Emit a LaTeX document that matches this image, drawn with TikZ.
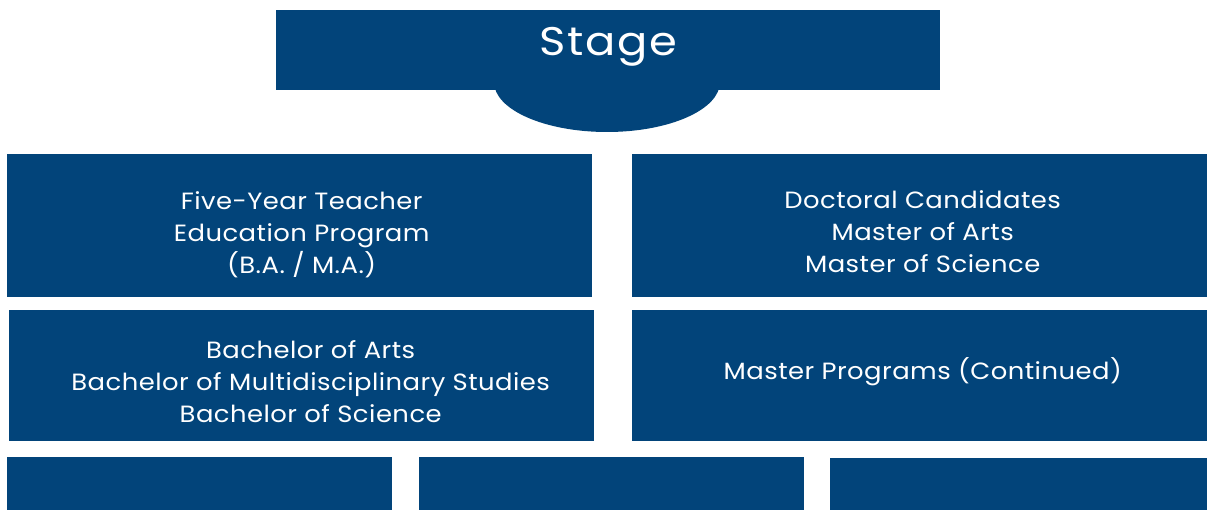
\documentclass[tikz,border=0pt]{standalone}
\usepackage{fontspec}
\setmainfont{Poppins}
\newfontfamily\bodyfont[FakeStretch=1.1, LetterSpace=2]{Poppins}
\newfontfamily\titlefont[FakeStretch=1.12, LetterSpace=4]{Poppins}
\usetikzlibrary{shapes.geometric}
\definecolor{stageblue}{HTML}{02447A}
\tikzset{
  blk/.style={fill=stageblue, draw=none, anchor=north west, inner sep=0pt},
  txt/.style={text=white, align=center, inner sep=0pt, font=\bodyfont\fontsize{23.5}{32}\selectfont},
}
\begin{document}
\begin{tikzpicture}[x=1pt,y=-1pt]
\useasboundingbox (0,0) rectangle (1207,510);
\node[ellipse, fill=stageblue, minimum width=226pt, minimum height=100pt, inner sep=0pt] (dome) at (607,82) {};
\node[blk, minimum width=664pt, minimum height=80pt,
  label={[txt, font=\titlefont\fontsize{40}{46}\selectfont, yshift=3pt]center:Stage}] (stage) at (276,10) {};
\node[blk, minimum width=585pt, minimum height=143pt,
  label={[txt, xshift=2pt, yshift=-9pt]center:{Five-Year Teacher\\Education Program\\(B.A. / M.A.)}}] (five) at (7,154) {};
\node[blk, minimum width=575pt, minimum height=143pt,
  label={[txt, xshift=3pt, yshift=-6pt]center:{Doctoral Candidates\\Master of Arts\\Master of Science}}] (doc) at (632,154) {};
\node[blk, minimum width=585pt, minimum height=131pt,
  label={[txt, xshift=9pt, yshift=-6pt]center:{Bachelor of Arts\\Bachelor of Multidisciplinary Studies\\Bachelor of Science}}] (bach) at (9,310) {};
\node[blk, minimum width=575pt, minimum height=131pt,
  label={[txt, xshift=3pt, yshift=4pt]center:{Master Programs (Continued)}}] (mast) at (632,310) {};
\node[blk, minimum width=385pt, minimum height=53pt] (b1) at (7,457) {};
\node[blk, minimum width=385pt, minimum height=53pt] (b2) at (419,457) {};
\node[blk, minimum width=377pt, minimum height=52pt] (b3) at (830,458) {};
\end{tikzpicture}
\end{document}
